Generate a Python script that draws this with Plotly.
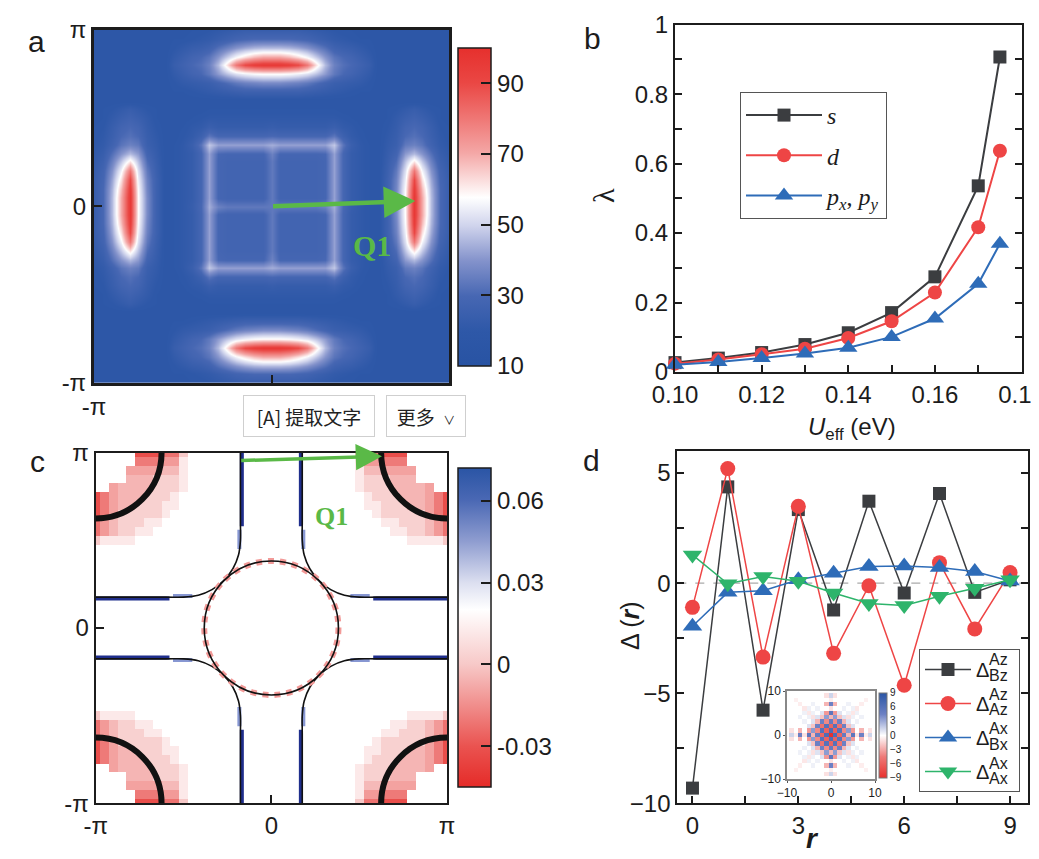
import numpy as np
import plotly.graph_objects as go

W, H = 1039, 859
PAGE_OFFSET = 8   # default body margin of the written page
SANS = "Liberation Sans"
SERIF = "Liberation Serif"
CJK = "Noto Sans CJK SC"
INK = "#1c1c1c"
GREEN = "#5ab947"

# --- panel a: susceptibility, one quadrant (qx, qy >= 0), in units of pi
K_QUAD = [0.0, 0.05, 0.1, 0.15, 0.2, 0.25, 0.3, 0.35, 0.4, 0.45, 0.5,
          0.55, 0.6, 0.65, 0.7, 0.75, 0.8, 0.85, 0.9, 0.95, 1.0]
# rows: qy = 0 .. pi, columns: qx = 0 .. pi
A_QUAD = [
    [34, 34, 34, 34, 34, 34, 36, 44, 30, 24, 21, 19, 18, 26, 38, 58, 96, 70, 46, 30, 24],
    [34, 28, 28, 28, 28, 28, 29, 42, 29, 23, 21, 19, 18, 26, 38, 58, 96, 70, 46, 30, 24],
    [34, 28, 28, 28, 28, 28, 29, 42, 29, 23, 21, 19, 18, 26, 37, 57, 94, 67, 45, 30, 24],
    [34, 28, 28, 28, 28, 28, 29, 42, 29, 23, 21, 19, 18, 26, 36, 55, 90, 62, 43, 29, 24],
    [34, 28, 28, 28, 28, 28, 29, 42, 29, 23, 21, 19, 18, 25, 34, 52, 80, 56, 40, 28, 23],
    [34, 28, 28, 28, 28, 28, 29, 42, 29, 23, 21, 19, 18, 24, 31, 47, 62, 48, 36, 26, 22],
    [36, 29, 29, 29, 29, 29, 30, 42, 29, 23, 21, 19, 18, 23, 28, 41, 46, 40, 32, 24, 21],
    [44, 42, 42, 42, 42, 42, 42, 48, 33, 25, 21, 19, 18, 22, 25, 34, 36, 33, 27, 22, 20],
    [30, 29, 29, 29, 29, 29, 29, 33, 26, 22, 20, 18, 18, 21, 24, 30, 32, 30, 25, 21, 19],
    [24, 23, 23, 23, 23, 23, 23, 25, 22, 21, 19, 18, 18, 20, 23, 28, 30, 28, 24, 20, 19],
    [21, 21, 21, 21, 21, 21, 21, 21, 20, 19, 18, 18, 18, 19, 22, 25, 27, 25, 22, 19, 18],
    [19, 19, 19, 19, 19, 19, 19, 19, 18, 18, 18, 18, 18, 19, 20, 22, 24, 22, 20, 19, 18],
    [18, 18, 18, 18, 18, 18, 18, 18, 18, 18, 18, 18, 18, 18, 18, 18, 18, 18, 18, 18, 18],
    [26, 26, 26, 26, 25, 24, 23, 22, 21, 20, 19, 19, 18, 18, 18, 18, 18, 18, 18, 18, 18],
    [38, 38, 37, 36, 34, 31, 28, 25, 24, 23, 22, 20, 18, 18, 18, 18, 18, 18, 18, 18, 18],
    [58, 58, 57, 55, 52, 47, 41, 34, 30, 28, 25, 22, 18, 18, 18, 18, 18, 18, 18, 18, 18],
    [96, 96, 94, 90, 80, 62, 46, 36, 32, 30, 27, 24, 18, 18, 18, 18, 18, 18, 18, 18, 18],
    [70, 70, 67, 62, 56, 48, 40, 33, 30, 28, 25, 22, 18, 18, 18, 18, 18, 18, 18, 18, 18],
    [46, 46, 45, 43, 40, 36, 32, 27, 25, 24, 22, 20, 18, 18, 18, 18, 18, 18, 18, 18, 18],
    [30, 30, 30, 29, 28, 26, 24, 22, 21, 20, 19, 19, 18, 18, 18, 18, 18, 18, 18, 18, 18],
    [24, 24, 24, 24, 23, 22, 21, 20, 19, 19, 18, 18, 18, 18, 18, 18, 18, 18, 18, 18, 18],
]
A_TICKS = [10, 30, 50, 70, 90]
Q1_HEAD_A = (0.81, 0.03)   # tail at Gamma

# --- panel b: eigenvalues vs U_eff
U_EFF = [0.10, 0.11, 0.12, 0.13, 0.14, 0.15, 0.16, 0.17, 0.175]
LAM_S = [0.027, 0.040, 0.056, 0.079, 0.113, 0.171, 0.274, 0.536, 0.907]
LAM_D = [0.024, 0.036, 0.051, 0.067, 0.098, 0.146, 0.229, 0.417, 0.637]
LAM_P = [0.021, 0.029, 0.040, 0.053, 0.070, 0.101, 0.154, 0.254, 0.369]

# --- panel c: gap on the BZ, quadrant kx, ky >= 0, in units of 1e-3
C_QUAD_MILLI = [
    [20, 20, 20, 20, 20, 20, 20, 20, 20, 20, 20, 20, 20, 20, 20, 20, 20, 20, 20, 20, 20],
    [20, 20, 20, 20, 20, 20, 20, 20, 20, 20, 20, 20, 20, 20, 20, 20, 20, 20, 20, 20, 20],
    [20, 20, 20, 20, 20, 20, 20, 20, 20, 20, 20, 20, 20, 20, 20, 20, 20, 20, 20, 20, 20],
    [20, 20, 20, 20, 20, 20, 20, 20, 20, 20, 20, 20, 20, 20, 20, 20, 20, 20, 20, 20, 20],
    [20, 20, 20, 20, 20, 20, 20, 20, 20, 20, 20, 20, 20, 20, 20, 20, 20, 20, 20, 20, 20],
    [20, 20, 20, 20, 20, 20, 20, 20, 20, 20, 20, 20, 20, 20, 20, 20, 20, 20, 20, 20, 20],
    [20, 20, 20, 20, 20, 20, 20, 20, 20, 20, 20, 20, 20, 20, 20, 20, 20, 20, 20, 20, 20],
    [20, 20, 20, 20, 20, 20, 20, 20, 20, 20, 20, 20, 20, 20, 20, 20, 20, 20, 20, 20, 20],
    [20, 20, 20, 20, 20, 20, 20, 20, 20, 20, 20, 20, 20, 20, 20, 20, 20, 20, 20, 20, 20],
    [20, 20, 20, 20, 20, 20, 20, 20, 20, 20, 20, 20, 20, 20, 20, 20, 20, 20, 20, 20, 20],
    [20, 20, 20, 20, 20, 20, 20, 20, 20, 20, 20, 20, 20, 20, 20, 20, 12, 12, 12, 12, 0],
    [20, 20, 20, 20, 20, 20, 20, 20, 20, 20, 20, 20, 20, 20, 12, 12, 3, 3, -4, -12, -22],
    [20, 20, 20, 20, 20, 20, 20, 20, 20, 20, 20, 20, 20, 12, 12, 3, 3, 3, -4, -12, -22],
    [20, 20, 20, 20, 20, 20, 20, 20, 20, 20, 20, 20, 12, 3, 3, 3, 3, 3, -10, -20, -32],
    [20, 20, 20, 20, 20, 20, 20, 20, 20, 20, 20, 12, 12, 3, 3, 3, -5, -5, -10, -20, -32],
    [20, 20, 20, 20, 20, 20, 20, 20, 20, 20, 20, 12, 3, 3, 3, -5, -5, -5, -10, -20, -32],
    [20, 20, 20, 20, 20, 20, 20, 20, 20, 20, 12, 3, 3, 3, -5, -5, -5, -5, -10, 20, 20],
    [20, 20, 20, 20, 20, 20, 20, 20, 20, 20, 12, 3, 3, 3, -5, -5, -5, 20, 20, 20, 20],
    [20, 20, 20, 20, 20, 20, 20, 20, 20, 20, 12, -4, -4, -10, -10, -10, -10, 20, 20, 20, 20],
    [20, 20, 20, 20, 20, 20, 20, 20, 20, 20, 12, -12, -12, -20, -20, -20, 20, 20, 20, 20, 20],
    [20, 20, 20, 20, 20, 20, 20, 20, 20, 20, 0, -22, -22, -32, -32, -32, 20, 20, 20, 20, 20],
]
C_TICKS = [-0.03, 0.0, 0.03, 0.06]
C_TICKTEXT = ["-0.03", "0", "0.03", "0.06"]
FS_RADIUS = 0.382       # Gamma pocket
CORNER_RADIUS = 0.375   # M pockets
# Fermi-surface branch in the kx, ky > 0 quadrant
BRANCH_X = [0.176, 0.176, 0.176, 0.187, 0.219, 0.271, 0.338, 0.416, 0.500, 0.600, 1.0]
BRANCH_Y = [1.0, 0.600, 0.500, 0.416, 0.338, 0.271, 0.219, 0.187, 0.176, 0.176, 0.176]
BLUE_DARK_X = [0.168, 0.168, None, 0.58, 1.0]
BLUE_DARK_Y = [0.58, 1.0, None, 0.168, 0.168]
BLUE_LIGHT_X = [0.182, 0.182, None, 0.45, 0.56]
BLUE_LIGHT_Y = [0.45, 0.56, None, 0.182, 0.182]
Q1_TAIL_C = (-0.18, 0.955)
Q1_HEAD_C = (0.63, 0.98)

# --- panel d: real-space pairing
R = [0, 1, 2, 3, 4, 5, 6, 7, 8, 9]
D_AZBZ = [-9.31, 4.37, -5.77, 3.34, -1.22, 3.72, -0.45, 4.07, -0.42, 0.15]
D_AZAZ = [-1.10, 5.20, -3.36, 3.49, -3.19, -0.12, -4.64, 0.93, -2.08, 0.48]
D_AXBX = [-1.96, -0.42, -0.35, 0.15, 0.45, 0.75, 0.78, 0.71, 0.53, 0.10]
D_AXAX = [1.28, -0.03, 0.30, 0.08, -0.45, -0.93, -1.02, -0.60, -0.23, 0.15]
D_SCRIPTS = [("Az", "Bz"), ("Az", "Az"), ("Ax", "Bx"), ("Ax", "Ax")]
INSET_R = [0, 1, 2, 3, 4, 5, 6, 7, 8, 9, 10]
INSET_QUAD = [
    [-9.0, 6.5, -5.8, 5.0, -2.5, 5.5, -1.0, 4.5, -0.6, 1.5, 0.0],
    [6.5, -6.0, 6.0, -4.0, 3.5, -3.5, 0.0, -2.5, 0.0, -1.0, 0.0],
    [-5.8, 6.0, -5.0, 4.5, -2.0, 1.0, 0.0, 0.0, 0.0, 0.0, 0.0],
    [5.0, -4.0, 4.5, -2.5, 1.0, 0.0, 0.5, 0.0, 0.0, 0.0, 0.0],
    [-2.5, 3.5, -2.0, 1.0, -1.0, 0.5, 0.0, 0.5, 0.0, 0.0, 0.0],
    [5.5, -3.5, 1.0, 0.0, 0.5, -0.8, 0.5, 0.0, 0.0, 0.0, 0.0],
    [-1.0, 0.0, 0.0, 0.5, 0.0, 0.5, -0.8, 0.0, 0.0, 0.0, 0.0],
    [4.5, -2.5, 0.0, 0.0, 0.5, 0.0, 0.0, -0.6, 0.0, 0.0, 0.0],
    [-0.6, 0.0, 0.0, 0.0, 0.0, 0.0, 0.0, 0.0, -0.5, 0.0, 0.0],
    [1.5, -1.0, 0.0, 0.0, 0.0, 0.0, 0.0, 0.0, 0.0, 0.0, 0.0],
    [0.0, 0.0, 0.0, 0.0, 0.0, 0.0, 0.0, 0.0, 0.0, 0.0, 0.0],
]

CS_A = [[0.0, "#2853a3"], [0.11, "#2e58a8"], [0.22, "#4767b3"], [0.33, "#8392cb"],
        [0.44, "#cfd3ec"], [0.53, "#ffffff"], [0.67, "#f4a7a6"], [0.78, "#ef7674"],
        [0.89, "#ea4744"], [1.0, "#e6302d"]]
CS_C = [[0.0, "#e52b28"], [0.128, "#ea5350"], [0.385, "#f7c9c8"], [0.51, "#fdf0f0"],
        [0.556, "#ffffff"], [0.64, "#dcdff0"], [0.77, "#8f9dd0"], [0.9, "#4a68b4"],
        [1.0, "#2a55a5"]]
CS_IN = [[0.0, "#e8302d"], [0.25, "#ee7a78"], [0.5, "#ffffff"], [0.75, "#6c80c4"],
         [1.0, "#2a55a5"]]


def fx(p):
    return (p - PAGE_OFFSET) / W


def fy(p):
    return 1 - (p - PAGE_OFFSET) / H


def unfold(q):
    q = np.asarray(q, dtype=float)
    q = np.vstack([q[:0:-1], q])
    return np.hstack([q[:, :0:-1], q])


def four_fold(xs, ys):
    ox, oy = [], []
    for sx, sy in [(1, 1), (-1, 1), (-1, -1), (1, -1)]:
        ox += [None if v is None else sx * v for v in xs] + [None]
        oy += [None if v is None else sy * v for v in ys] + [None]
    return ox, oy


def label(text, x, y, size, family=SANS, color=INK, **kw):
    d = dict(text=text, x=fx(x), y=fy(y), xref="paper", yref="paper", showarrow=False,
             xanchor="center", yanchor="middle",
             font=dict(family=family, size=size, color=color))
    d.update(kw)
    return d


k_full = [-k for k in K_QUAD[:0:-1]] + K_QUAD
r_full = [-r for r in INSET_R[:0:-1]] + INSET_R

fig = go.Figure()

# a
fig.add_trace(go.Heatmap(
    x=k_full, y=k_full, z=unfold(A_QUAD), zmin=10, zmax=100, zsmooth="best",
    colorscale=CS_A, xaxis="x", yaxis="y", hoverinfo="skip",
    colorbar=dict(x=fx(458), xanchor="left", thickness=33, len=318 / H, y=fy(207),
                  yanchor="middle", outlinewidth=1.5, outlinecolor=INK, ticks="inside",
                  ticklen=10, tickwidth=1.5, tickcolor=INK, tickvals=A_TICKS,
                  tickfont=dict(family=SANS, size=24, color=INK), xpad=0, ypad=0)))

# b
for name, ys, col, sym, size in [("<i>s</i>", LAM_S, "#3b3d40", "square", 13),
                                 ("<i>d</i>", LAM_D, "#ee4545", "circle", 14),
                                 ("<i>p<sub>x</sub></i>, <i>p<sub>y</sub></i>", LAM_P,
                                  "#2e6cb8", "triangle-up", 16)]:
    fig.add_trace(go.Scatter(
        x=U_EFF, y=ys, name=name, mode="lines+markers", xaxis="x2", yaxis="y2",
        line=dict(color=col, width=2), marker=dict(symbol=sym, size=size, color=col),
        legend="legend", legendgroup=name, cliponaxis=False))

# c
fig.add_trace(go.Heatmap(
    x=k_full, y=k_full, z=unfold(C_QUAD_MILLI) / 1000.0, zmin=-0.045, zmax=0.072,
    zsmooth=False, colorscale=CS_C, xaxis="x3", yaxis="y3", hoverinfo="skip",
    colorbar=dict(x=fx(458), xanchor="left", thickness=33, len=319 / H, y=fy(627.5),
                  yanchor="middle", outlinewidth=1.5, outlinecolor=INK, ticks="inside",
                  ticklen=10, tickwidth=1.5, tickcolor=INK, tickvals=C_TICKS,
                  ticktext=C_TICKTEXT, tickfont=dict(family=SANS, size=24, color=INK),
                  xpad=0, ypad=0)))
bx, by = four_fold(BLUE_DARK_X, BLUE_DARK_Y)
fig.add_trace(go.Scatter(x=bx, y=by, mode="lines", xaxis="x3", yaxis="y3",
                         line=dict(color="#1f2e8c", width=4), showlegend=False))
bx, by = four_fold(BLUE_LIGHT_X, BLUE_LIGHT_Y)
fig.add_trace(go.Scatter(x=bx, y=by, mode="lines", xaxis="x3", yaxis="y3",
                         line=dict(color="#8797d2", width=4), showlegend=False))
hx, hy = four_fold(BRANCH_X, BRANCH_Y)
fig.add_trace(go.Scatter(x=hx, y=hy, mode="lines", xaxis="x3", yaxis="y3",
                         line=dict(color="#111111", width=1.6, shape="spline"),
                         showlegend=False))

# d
for name, ys, col, sym, size in [("AzBz", D_AZBZ, "#3b3d40", "square", 13),
                                 ("AzAz", D_AZAZ, "#ee4545", "circle", 15),
                                 ("AxBx", D_AXBX, "#2e6cb8", "triangle-up", 17),
                                 ("AxAx", D_AXAX, "#2eb46b", "triangle-down", 17)]:
    fig.add_trace(go.Scatter(
        x=R, y=ys, name="\u0394\u2003\u2009", mode="lines+markers", xaxis="x4", yaxis="y4",
        line=dict(color=col, width=1.5), marker=dict(symbol=sym, size=size, color=col),
        legend="legend2", legendgroup=name, cliponaxis=False))

fig.add_trace(go.Heatmap(
    x=r_full, y=r_full, z=unfold(INSET_QUAD), zmin=-9, zmax=9, zsmooth=False,
    colorscale=CS_IN, xaxis="x5", yaxis="y5", hoverinfo="skip",
    colorbar=dict(x=fx(879), xanchor="left", thickness=8, len=85 / H, y=fy(735),
                  yanchor="middle", outlinewidth=1, outlinecolor="#777", ticks="",
                  tickvals=[-9, -6, -3, 0, 3, 6, 9],
                  tickfont=dict(family=SANS, size=10, color=INK), xpad=0, ypad=0)))

# shapes for panel c Fermi surfaces
fig.add_shape(type="circle", xref="x3", yref="y3", x0=-FS_RADIUS, x1=FS_RADIUS,
              y0=-FS_RADIUS, y1=FS_RADIUS, line=dict(color="#f29a98", width=6, dash="dot"))
fig.add_shape(type="circle", xref="x3", yref="y3", x0=-FS_RADIUS, x1=FS_RADIUS,
              y0=-FS_RADIUS, y1=FS_RADIUS, line=dict(color="#111111", width=1.6))
for cx in (-1, 1):
    for cy in (-1, 1):
        fig.add_shape(type="circle", xref="x3", yref="y3",
                      x0=cx - CORNER_RADIUS, x1=cx + CORNER_RADIUS,
                      y0=cy - CORNER_RADIUS, y1=cy + CORNER_RADIUS,
                      line=dict(color="#111111", width=6))
fig.add_shape(type="line", xref="x4 domain", yref="y4", x0=0, x1=1, y0=0, y1=0,
              layer="below", line=dict(color="#aaaaaa", width=1.2, dash="dash"))

tick_font = dict(family=SANS, size=24, color=INK)
pi_text = ["-\u03c0", "0", "\u03c0"]


def k_axis(domain, anchor, lw):
    return dict(domain=domain, anchor=anchor, range=[-1, 1], tickvals=[-1, 0, 1],
                ticktext=pi_text, ticks="inside", ticklen=8, tickwidth=1.5, tickcolor=INK,
                showline=True, linewidth=lw, linecolor=INK, mirror=True, showgrid=False,
                zeroline=False, tickfont=tick_font, automargin=False)


def lin_axis(domain, anchor, rng, tickvals, minor_vals, mirror, **kw):
    d = dict(domain=domain, anchor=anchor, range=rng, tickvals=tickvals,
             ticks="inside", ticklen=7, tickwidth=1.5, tickcolor=INK,
             minor=dict(tickvals=minor_vals, ticks="inside", ticklen=7, tickwidth=1.5,
                        tickcolor=INK),
             showline=True, linewidth=2, linecolor=INK, mirror=mirror, showgrid=False,
             zeroline=False, tickfont=tick_font, automargin=False)
    d.update(kw)
    return d


def inset_axis(domain, anchor):
    return dict(domain=domain, anchor=anchor, range=[-10, 10], tickvals=[-10, 0, 10],
                ticks="outside", ticklen=2, tickcolor="#555", showline=True,
                linewidth=1.5, linecolor="#888", mirror=True, showgrid=False,
                zeroline=False, automargin=False,
                tickfont=dict(family=SANS, size=12, color=INK))


layout_axes = dict(
    xaxis=k_axis([fx(94), fx(449)], "y", 3),
    yaxis=k_axis([fy(383), fy(29.7)], "x", 3),
    xaxis3=k_axis([fx(95.7), fx(447)], "y3", 2),
    yaxis3=k_axis([fy(803.3), fy(452.7)], "x3", 2),
    xaxis2=lin_axis([fx(675), fx(1022)], "y2", [0.10, 0.1801],
                    [0.10, 0.12, 0.14, 0.16, 0.18], [0.11, 0.13, 0.15, 0.17], True,
                    tickformat=".2f"),
    yaxis2=lin_axis([fy(372), fy(24.7)], "x2", [0, 1], [0, 0.2, 0.4, 0.6, 0.8, 1.0],
                    [0.1, 0.3, 0.5, 0.7, 0.9], "ticks",
                    ticktext=["0", "0.2", "0.4", "0.6", "0.8", "1"]),
    xaxis4=lin_axis([fx(677.3), fx(1027.7)], "y4", [-0.43, 9.5], [0, 3, 6, 9],
                    [1.5, 4.5, 7.5], True),
    yaxis4=lin_axis([fy(803.3), fy(451)], "x4", [-10, 6], [-10, -5, 0, 5],
                    [-7.5, -2.5, 2.5], "ticks"),
    xaxis5=inset_axis([fx(787), fx(875)], "y5"),
    yaxis5=inset_axis([fy(779), fy(691)], "x5"),
)

ann = [label(t, x, y, 30) for t, x, y in
       [("a", 36, 41), ("b", 592, 38), ("c", 37, 461), ("d", 591, 460)]]
ann += [
    label("\u03bb", 603, 196, 30, family=SERIF, textangle=-90),
    label("<i>U</i><sub>eff</sub> (eV)", 852, 428, 24),
    label("\u0394 (<b><i>r</i></b>)", 630, 626, 25, textangle=-90),
    label("<b><i>r</i></b>", 812, 838, 28),
    label("<b>Q1</b>", 372, 245, 30, family=SERIF, color=GREEN),
    label("<b>Q1</b>", 331, 516, 26, family=SERIF, color=GREEN),
    # screenshot overlay buttons
    label("[A] \u63d0\u53d6\u6587\u5b57", 308.5, 416, 19, family=CJK, color="#222",
          width=128, height=38, bgcolor="white", bordercolor="#cfcfcf", borderwidth=1,
          borderpad=1),
    label("\u66f4\u591a  <span style='font-size:12px'>\u2228</span>", 426, 416, 19,
          family=CJK, color="#222", width=76, height=38, bgcolor="white",
          bordercolor="#cfcfcf", borderwidth=1, borderpad=1),
    # Q1 arrows
    dict(x=Q1_HEAD_A[0], y=Q1_HEAD_A[1], ax=0, ay=0, xref="x", yref="y", axref="x",
         ayref="y", text="", showarrow=True, arrowhead=2, arrowsize=1.4, arrowwidth=4.5,
         arrowcolor=GREEN, standoff=0),
    dict(x=Q1_HEAD_C[0], y=Q1_HEAD_C[1], ax=Q1_TAIL_C[0], ay=Q1_TAIL_C[1], xref="x3",
         yref="y3", axref="x3", ayref="y3", text="", showarrow=True, arrowhead=2,
         arrowsize=1.5, arrowwidth=3.5, arrowcolor=GREEN, standoff=0),
]
for i, (sup, sub) in enumerate(D_SCRIPTS):
    yc = 666.7 + i * 34.5
    ann.append(label(sup, 987, yc - 7, 16, xanchor="left"))
    ann.append(label(sub, 987, yc + 8.5, 16, xanchor="left"))

fig.update_layout(
    width=W, height=H, margin=dict(l=0, r=0, t=0, b=0, autoexpand=False),
    paper_bgcolor="white", plot_bgcolor="white", showlegend=True,
    legend=dict(x=fx(740), y=fy(92), xanchor="left", yanchor="top", bgcolor="white",
                bordercolor="#555", borderwidth=1, itemwidth=76, tracegroupgap=6,
                itemsizing="trace", font=dict(family=SERIF, size=24, color=INK)),
    legend2=dict(x=fx(919), y=fy(649), xanchor="left", yanchor="top", bgcolor="white",
                 bordercolor="#555", borderwidth=1, itemwidth=46, tracegroupgap=5,
                 itemsizing="trace", font=dict(family=SANS, size=20, color=INK)),
    annotations=ann,
    **layout_axes,
)

fig.write_html("out.html")
